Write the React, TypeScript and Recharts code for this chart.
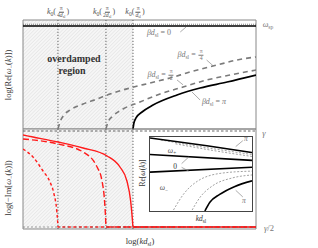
import React from "react";
import { LineChart, Line, XAxis, YAxis, ReferenceLine, ReferenceArea } from "recharts";

const FONT = '"Liberation Serif", "DejaVu Serif", serif';

// x: log(k d_sl), 0..100 across the panel
const kMarks = [15.0, 35.6, 47.2];
const overdampedEnd = 47.2;

// top panel: log(Re[w-(k)])
const omegaSp = 94.5;
const kPi4Re = [15.0, 15.9, 17.6, 20.2, 25.8, 31.8, 37.3, 45.9, 54.5, 63.1, 71.7, 83.3, 91.8, 100];
const rePi4 = [0, 6.4, 12.8, 17.4, 22.9, 27.5, 32.1, 37.6, 42.2, 46.8, 52.3, 58.7, 63.3, 66.1];
const kPi2Re = [35.6, 36.5, 38.6, 42.9, 50.2, 58.8, 68.7, 79.0, 88.8, 100];
const rePi2 = [0, 6.4, 11.9, 18.3, 24.8, 32.1, 38.5, 45.0, 49.5, 54.1];
const kPiRe = [47.2, 47.6, 48.5, 51.1, 55.8, 66.1, 76.0, 87.6, 100];
const rePi = [0, 5.5, 10.1, 15.6, 22.0, 31.2, 37.6, 43.1, 49.5];

// bottom panel: log(-Im[w-(k)])
const gammaLevel = 98;
const halfGamma = 2;
const kPiIm = [0, 4.3, 15, 25.8, 36.1, 41.6, 44.6, 46.2, 47.0, 47.2, 100];
const imPi = [94, 92, 87, 81, 73, 62, 48, 28, 8, 2, 2];
const kPi2Im = [0, 15, 25.8, 31.8, 33.9, 35.0, 35.5, 35.6, 100];
const imPi2 = [90, 85, 77, 62, 48, 28, 8, 2, 2];
const kPi4Im = [0, 4.3, 8.6, 11.6, 13.3, 14.5, 14.9, 15.0, 100];
const imPi4 = [80, 72, 58, 47, 35, 18, 6, 2, 2];

// inset: Re[w(k)] vs k d_sl
const inKPiUp = [0, 55.8, 100];
const inPiUp = [98.7, 88.2, 79];
const inKPi2Up = [10.6, 55.8, 100];
const inPi2Up = [96, 85.5, 76.3];
const inKPi4Up = [25, 62.5, 100];
const inPi4Up = [90.8, 81.6, 73.7];
const inKZero = [0, 100];
const inZeroUp = [76.3, 68.4];
const inZeroDown = [52.6, 59.2];
const inKPi4Down = [23, 32.7, 47.1, 71.2, 100];
const inPi4Down = [1.3, 22.4, 40.8, 51.3, 53.9];
const inKPi2Down = [41.3, 49, 61.5, 80.8, 100];
const inPi2Down = [1.3, 18.4, 34.2, 44.7, 48.7];
const inKPiDown = [53.8, 58.7, 68.3, 82.7, 100];
const inPiDown = [0, 11.8, 22.4, 32.9, 40.8];

// annotation pointers [x1, y1, x2, y2] in panel units
const topPointers = [
  [67.5, 89, 70, 93.6],
  [78.8, 63.3, 81.5, 58.2],
  [66.1, 45, 68.7, 40.5],
  [76, 26.6, 72.5, 34],
];

const pts = (xs: number[], ys: number[]) => xs.map((x, i) => ({ x, y: ys[i] }));

function Frac({ n, d }: { n: React.ReactNode; d: React.ReactNode }) {
  return (
    <span style={{ display: "inline-flex", flexDirection: "column", alignItems: "center", verticalAlign: "middle", fontSize: "0.72em", lineHeight: 1, margin: "0 1px" }}>
      <span style={{ borderBottom: "0.6px solid currentColor", padding: "0 1px" }}>{n}</span>
      <span>{d}</span>
    </span>
  );
}

const Sub = ({ children }: { children: React.ReactNode }) => (
  <sub style={{ fontSize: "0.7em", verticalAlign: "-0.3em", lineHeight: 0 }}>{children}</sub>
);
const Dsl = () => (
  <>
    <i>d</i>
    <Sub>sl</Sub>
  </>
);

function T({ x, y, children, size = 8, color = "#333", rotate, bold }: { x: number; y: number; children: React.ReactNode; size?: number; color?: string; rotate?: number; bold?: boolean }) {
  return (
    <div
      style={{
        position: "absolute",
        left: x,
        top: y,
        transform: `translate(-50%,-50%)${rotate ? ` rotate(${rotate}deg)` : ""}`,
        fontFamily: FONT,
        fontSize: size,
        color,
        whiteSpace: "nowrap",
        lineHeight: 1,
        fontWeight: bold ? "bold" : "normal",
        textAlign: "center",
      }}
    >
      {children}
    </div>
  );
}

function Hatch({ id }: { id: string }) {
  return (
    <defs>
      <pattern id={id} width="2.5" height="2.5" patternUnits="userSpaceOnUse" patternTransform="rotate(45)">
        <rect width="2.5" height="2.5" fill="#f6f6f6" />
        <line x1="0" y1="0" x2="0" y2="2.5" stroke="#d6d6d6" strokeWidth="0.8" />
      </pattern>
    </defs>
  );
}

const axes = (
  <>
    <XAxis type="number" dataKey="x" domain={[0, 100]} hide allowDataOverflow />
    <YAxis type="number" dataKey="y" domain={[0, 100]} hide allowDataOverflow />
  </>
);

function TopPanel() {
  return (
    <LineChart width={318} height={248} margin={{ top: 20, right: 62, bottom: 119, left: 23 }}>
      <Hatch id="hatchTop" />
      {axes}
      <ReferenceArea x1={0} x2={overdampedEnd} y1={0} y2={100} fill="url(#hatchTop)" fillOpacity={1} stroke="none" />
      {kMarks.map((k) => (
        <ReferenceLine key={k} x={k} stroke="#555" strokeDasharray="1.2 1.8" strokeWidth={0.9} />
      ))}
      <ReferenceLine y={omegaSp + 1.6} stroke="#666" strokeDasharray="1 1" strokeWidth={0.8} />
      <ReferenceLine y={omegaSp} stroke="#000" strokeWidth={1.6} />
      {topPointers.map((p, i) => (
        <ReferenceLine key={i} segment={[{ x: p[0], y: p[1] }, { x: p[2], y: p[3] }]} stroke="#888" strokeWidth={0.7} />
      ))}
      <Line data={pts(kPi4Re, rePi4)} dataKey="y" type="monotone" stroke="#7a7a7a" strokeWidth={1.6} strokeDasharray="5 4" dot={false} isAnimationActive={false} />
      <Line data={pts(kPi2Re, rePi2)} dataKey="y" type="monotone" stroke="#7a7a7a" strokeWidth={1.6} strokeDasharray="5 4" dot={false} isAnimationActive={false} />
      <Line data={pts(kPiRe, rePi)} dataKey="y" type="monotone" stroke="#000" strokeWidth={1.7} dot={false} isAnimationActive={false} />
      <ReferenceArea x1={0} x2={100} y1={0} y2={100} fill="none" stroke="#888" strokeWidth={1} />
    </LineChart>
  );
}

function BottomPanel() {
  return (
    <LineChart width={318} height={248} margin={{ top: 129, right: 62, bottom: 19, left: 23 }}>
      <Hatch id="hatchBottom" />
      {axes}
      <ReferenceArea x1={0} x2={overdampedEnd} y1={0} y2={100} fill="url(#hatchBottom)" fillOpacity={1} stroke="none" />
      {kMarks.map((k) => (
        <ReferenceLine key={k} x={k} stroke="#555" strokeDasharray="1.2 1.8" strokeWidth={0.9} />
      ))}
      <ReferenceLine y={gammaLevel} stroke="#555" strokeDasharray="2.5 2" strokeWidth={0.9} />
      <Line data={pts(kPi4Im, imPi4)} dataKey="y" type="monotone" stroke="#ff1a1a" strokeWidth={1.4} strokeDasharray="3 2.5" dot={false} isAnimationActive={false} />
      <Line data={pts(kPi2Im, imPi2)} dataKey="y" type="monotone" stroke="#ff1a1a" strokeWidth={1.4} strokeDasharray="6 3" dot={false} isAnimationActive={false} />
      <Line data={pts(kPiIm, imPi)} dataKey="y" type="monotone" stroke="#ff1a1a" strokeWidth={1.4} dot={false} isAnimationActive={false} />
      <ReferenceLine y={halfGamma} stroke="#666" strokeDasharray="2 2" strokeWidth={0.6} />
      <ReferenceArea x1={0} x2={100} y1={0} y2={100} fill="none" stroke="#888" strokeWidth={1} />
    </LineChart>
  );
}

function Inset() {
  const thin = { stroke: "#8a8a8a", strokeWidth: 0.8, strokeDasharray: "2 1.6" };
  const bold = { stroke: "#000", strokeWidth: 1.6 };
  return (
    <div style={{ position: "absolute", left: 149, top: 136, width: 104, height: 76, background: "#fff", border: "1px solid #444", boxSizing: "border-box" }}>
      <LineChart width={102} height={74} margin={{ top: 0, right: 0, bottom: 0, left: 0 }}>
        {axes}
        <Line data={pts(inKPi2Up, inPi2Up)} dataKey="y" type="monotone" {...thin} dot={false} isAnimationActive={false} />
        <Line data={pts(inKPi4Up, inPi4Up)} dataKey="y" type="monotone" {...thin} dot={false} isAnimationActive={false} />
        <Line data={pts(inKPi4Down, inPi4Down)} dataKey="y" type="monotone" {...thin} dot={false} isAnimationActive={false} />
        <Line data={pts(inKPi2Down, inPi2Down)} dataKey="y" type="monotone" {...thin} dot={false} isAnimationActive={false} />
        <Line data={pts(inKPiUp, inPiUp)} dataKey="y" type="monotone" {...bold} dot={false} isAnimationActive={false} />
        <Line data={pts(inKZero, inZeroUp)} dataKey="y" type="linear" {...bold} dot={false} isAnimationActive={false} />
        <Line data={pts(inKZero, inZeroDown)} dataKey="y" type="linear" {...bold} dot={false} isAnimationActive={false} />
        <Line data={pts(inKPiDown, inPiDown)} dataKey="y" type="monotone" {...bold} dot={false} isAnimationActive={false} />
        <ReferenceLine segment={[{ x: 84, y: 87 }, { x: 91, y: 95 }]} stroke="#888" strokeWidth={0.7} />
        <ReferenceLine segment={[{ x: 31, y: 64 }, { x: 38, y: 73 }]} stroke="#888" strokeWidth={0.7} />
        <ReferenceLine segment={[{ x: 31, y: 59 }, { x: 38, y: 54 }]} stroke="#888" strokeWidth={0.7} />
        <ReferenceLine segment={[{ x: 84, y: 28 }, { x: 91, y: 19 }]} stroke="#888" strokeWidth={0.7} />
      </LineChart>
    </div>
  );
}

export default function App() {
  const grey = "#777";
  return (
    <div style={{ position: "absolute", left: 0, top: 0, width: 318, height: 248, background: "#fff", overflow: "hidden" }}>
      <div style={{ position: "absolute", left: 0, top: 0 }}>
        <TopPanel />
      </div>
      <div style={{ position: "absolute", left: 0, top: 0 }}>
        <BottomPanel />
      </div>
      <Inset />

      <T x={58} y={12} color="#555">
        <i>k</i><Sub>0</Sub>(<Frac n="π" d={<>4<Dsl /></>} />)
      </T>
      <T x={104} y={12} color="#555">
        <i>k</i><Sub>0</Sub>(<Frac n="π" d={<>2<Dsl /></>} />)
      </T>
      <T x={135} y={12} color="#555">
        <i>k</i><Sub>0</Sub>(<Frac n="π" d={<Dsl />} />)
      </T>

      <T x={8} y={75} rotate={-90} size={8.5}>
        log(Re[<i>ω</i><Sub>−</Sub>(<i>k</i>)])
      </T>
      <T x={8} y={188} rotate={-90} size={8.5}>
        log(−Im[<i>ω</i><Sub>−</Sub>(<i>k</i>)])
      </T>
      <T x={140} y={241} size={8.5}>
        log(<i>kd</i><Sub>sl</Sub>)
      </T>

      <T x={268} y={25} color={grey}>
        <i>ω</i><Sub>sp</Sub>
      </T>
      <T x={264} y={133} color={grey} size={8.5}>
        <i>γ</i>
      </T>
      <T x={269} y={228} color={grey} size={8.5}>
        <i>γ</i>/2
      </T>

      <T x={74} y={59} size={10} bold>overdamped</T>
      <T x={72} y={71} size={10} bold>region</T>

      <T x={159} y={33} color={grey}>
        <i>β</i><Dsl /> = 0
      </T>
      <T x={191} y={55} color={grey}>
        <i>β</i><Dsl /> = <Frac n="π" d="4" />
      </T>
      <T x={161} y={75} color={grey}>
        <i>β</i><Dsl /> = <Frac n="π" d="2" />
      </T>
      <T x={214} y={102} color={grey}>
        <i>β</i><Dsl /> = <i>π</i>
      </T>

      <T x={143} y={173} rotate={-90} size={7.5}>
        Re[<i>ω</i>(<i>k</i>)]
      </T>
      <T x={201} y={219} size={7.5}>
        <i>kd</i><Sub>sl</Sub>
      </T>
      <T x={246} y={139} size={7.5} color={grey}><i>π</i></T>
      <T x={244} y={201} size={7.5} color={grey}><i>π</i></T>
      <T x={175} y={167} size={7.5}>0</T>
      <T x={172} y={151} size={7.5} color="#555">
        <i>ω</i><Sub>+</Sub>
      </T>
      <T x={164} y={188} size={7.5} color="#555">
        <i>ω</i><Sub>−</Sub>
      </T>
    </div>
  );
}
